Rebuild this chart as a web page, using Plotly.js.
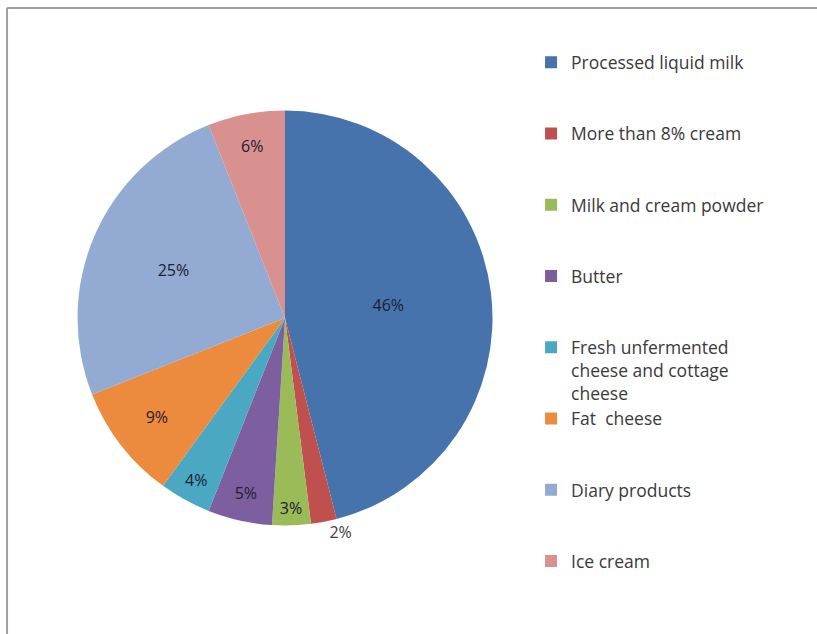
<!DOCTYPE html>
<html>
<head>
<meta charset="utf-8">
<script src="https://cdn.plot.ly/plotly-3.0.1.min.js"></script>
<style>html,body{margin:0;padding:0;background:#fff;}#chart{width:817px;height:634px;}</style>
</head>
<body>
<div id="chart"></div>
<script>
const categories = [
  "Processed liquid milk",
  "More than 8% cream",
  "Milk and cream powder",
  "Butter",
  "Fresh unfermented<br>cheese and cottage<br>cheese",
  "Fat  cheese",
  "Diary products",
  "Ice cream"
];
const shares = [46, 2, 3, 5, 4, 9, 25, 6];
const sliceColors = ["#4673AB", "#C0504D", "#9BBB59", "#7D5FA0", "#4AA8C2", "#EC8A3E", "#93AAD3", "#D9918F"];
const labelPositions = ["inside", "outside", "inside", "inside", "inside", "inside", "inside", "inside"];

// pad legend entries so that they are evenly spaced (3 lines each)
const legendLabels = categories.map(c => {
  const n = c.split("<br>").length;
  let s = c;
  for (let i = n; i < 3; i++) s += "<br> ";
  return s;
});

const trace = {
  type: "pie",
  labels: legendLabels,
  values: shares,
  sort: false,
  direction: "clockwise",
  rotation: 0,
  marker: { colors: sliceColors, line: { color: "#ffffff", width: 0 } },
  textinfo: "percent",
  texttemplate: "%{value}%",
  textposition: labelPositions,
  insidetextorientation: "horizontal",
  insidetextfont: { family: "Open Sans, sans-serif", size: 16, color: "#1c2030" },
  outsidetextfont: { family: "Open Sans, sans-serif", size: 16, color: "#404040" },
  domain: { x: [0.0949, 0.6028], y: [0.1711, 0.8257] },
  hoverinfo: "label+percent"
};

const layout = {
  width: 817,
  height: 634,
  margin: { l: 0, r: 0, t: 0, b: 0 },
  paper_bgcolor: "#ffffff",
  showlegend: true,
  legend: {
    x: 0.65, xanchor: "left",
    y: 0.93, yanchor: "top",
    valign: "top",
    font: { family: "Open Sans, sans-serif", size: 17.5, color: "#3a3a3a" },
    itemclick: false
  },
  shapes: [
    { type: "line", xref: "paper", yref: "paper", x0: 0.0086, x1: 1.01, y0: 0.9874, y1: 0.9874, line: { color: "#a0a0a0", width: 2 } },
    { type: "line", xref: "paper", yref: "paper", x0: 0.0086, x1: 0.0086, y0: -0.01, y1: 0.9874, line: { color: "#a0a0a0", width: 2 } }
  ]
};

Plotly.newPlot("chart", [trace], layout, { displayModeBar: false, staticPlot: true });
</script>
</body>
</html>
